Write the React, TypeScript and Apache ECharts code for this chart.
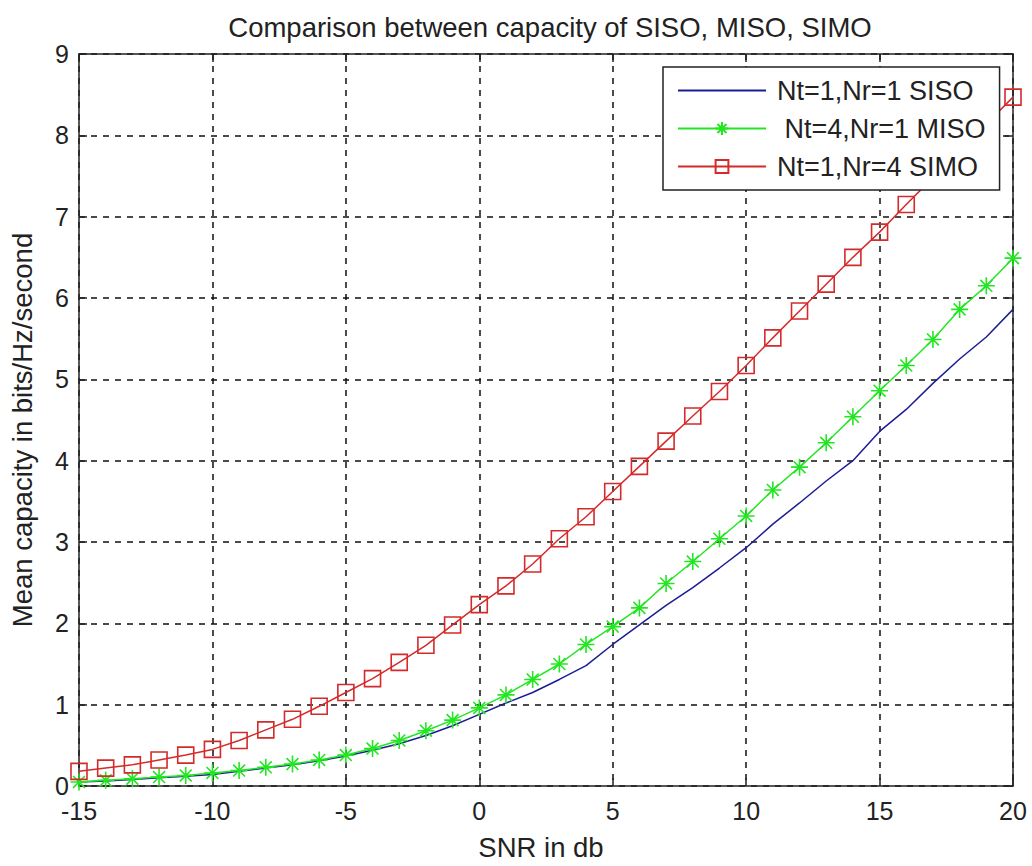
import React, { useEffect, useRef } from "react";
import * as echarts from "echarts";

const snr = [-15,-14,-13,-12,-11,-10,-9,-8,-7,-6,-5,-4,-3,-2,-1,0,1,2,3,4,5,6,7,8,9,10,11,12,13,14,15,16,17,18,19,20];
const siso = [0.05,0.06,0.08,0.10,0.12,0.14,0.18,0.22,0.26,0.31,0.37,0.44,0.52,0.62,0.74,0.88,1.02,1.15,1.31,1.48,1.74,1.98,2.22,2.44,2.68,2.93,3.22,3.48,3.75,4.0,4.36,4.63,4.95,5.25,5.52,5.86];
const miso = [0.05,0.07,0.09,0.11,0.13,0.16,0.19,0.23,0.27,0.32,0.38,0.46,0.56,0.68,0.81,0.96,1.12,1.31,1.50,1.74,1.96,2.19,2.49,2.76,3.04,3.32,3.64,3.92,4.22,4.54,4.86,5.17,5.49,5.86,6.15,6.49];
const simo = [0.18,0.22,0.26,0.32,0.38,0.45,0.56,0.69,0.82,0.98,1.15,1.32,1.52,1.73,1.98,2.23,2.46,2.73,3.04,3.31,3.62,3.93,4.24,4.55,4.85,5.17,5.51,5.84,6.17,6.50,6.81,7.15,7.48,7.80,8.14,8.47];
const seriesNames = ["Nt=1,Nr=1 SISO", " Nt=4,Nr=1 MISO", "Nt=1,Nr=4 SIMO"];
const titleText = "Comparison between capacity of SISO, MISO, SIMO";
const xName = "SNR in db";
const yName = "Mean capacity in bits/Hz/second";

const FONT = "'Liberation Sans', Arial, sans-serif";
const TXT = "#222";

export default function App() {
  const ref = useRef<HTMLDivElement>(null);
  useEffect(() => {
    if (!ref.current) return;
    const chart = echarts.init(ref.current, null, { renderer: "svg" });
    const pair = (ys: number[]) => snr.map((x, i) => [x, ys[i]]);
    const star = "path://M0,-10L0,10M-10,0L10,0M-7,-7L7,7M-7,7L7,-7";
    const axisCommon = {
      axisLine: { show: true, onZero: false, lineStyle: { color: "#222", width: 1.5 } },
      axisTick: { show: true, inside: true, length: 8, lineStyle: { color: "#222", width: 1.5 } },
      splitLine: { show: false },
    };
    chart.setOption({
      animation: false,
      backgroundColor: "#fff",
      textStyle: { fontFamily: FONT },
      title: {
        text: titleText,
        left: 545,
        textAlign: "center",
        top: 8,
        textStyle: { fontFamily: FONT, fontSize: 27.5, fontWeight: "normal", color: TXT },
      },
      legend: {
        left: 663,
        top: 67,
        orient: "vertical",
        backgroundColor: "#fff",
        borderColor: "#222",
        borderWidth: 1.5,
        borderRadius: 0,
        padding: [10, 14, 10, 14],
        itemGap: 11,
        itemWidth: 88,
        itemHeight: 16,
        data: [
          { name: seriesNames[0], itemStyle: { opacity: 0 } },
          { name: seriesNames[1] },
          { name: seriesNames[2] },
        ],
        textStyle: { fontFamily: FONT, fontSize: 27, color: TXT, padding: [0, 0, 0, 6] },
        z: 10,
      },
      graphic: [
        {
          type: "text",
          x: 22,
          y: 430,
          rotation: Math.PI / 2,
          style: {
            text: yName,
            fontFamily: FONT,
            fontSize: 27.5,
            fill: TXT,
            align: "center",
            verticalAlign: "middle",
          },
        },
      ],
      grid: { left: 79, right: 19, top: 54, bottom: 77, containLabel: false },
      xAxis: [
        {
          type: "value",
          min: -15,
          max: 20,
          interval: 5,
          position: "bottom",
          name: xName,
          nameLocation: "middle",
          nameGap: 47,
          nameTextStyle: { fontFamily: FONT, fontSize: 27.5, color: TXT, padding: [0, 10, 0, 0] },
          axisLabel: { fontFamily: FONT, fontSize: 25, color: TXT, margin: 12 },
          ...axisCommon,
          splitLine: { show: true, lineStyle: { color: "#111", type: [6, 6], width: 1.5 } },
        },
        {
          type: "value",
          min: -15,
          max: 20,
          interval: 5,
          position: "top",
          axisLabel: { show: false },
          ...axisCommon,
        },
      ],
      yAxis: [
        {
          type: "value",
          min: 0,
          max: 9,
          interval: 1,
          position: "left",
          axisLabel: { fontFamily: FONT, fontSize: 25, color: TXT, margin: 10 },
          ...axisCommon,
          splitLine: { show: true, lineStyle: { color: "#111", type: [6, 6], width: 1.5 } },
        },
        {
          type: "value",
          min: 0,
          max: 9,
          interval: 1,
          position: "right",
          axisLabel: { show: false },
          ...axisCommon,
        },
      ],
      series: [
        {
          name: seriesNames[0],
          type: "line",
          data: pair(siso),
          showSymbol: false,
          symbol: "none",
          color: "#1c1c96",
          lineStyle: { color: "#1c1c96", width: 1.5 },
        },
        {
          name: seriesNames[1],
          type: "line",
          data: pair(miso),
          symbol: star,
          symbolSize: 17,
          color: "#22e622",
          itemStyle: { color: "#22e622", borderColor: "#22e622", borderWidth: 1.6 },
          lineStyle: { color: "#22e622", width: 1.5 },
        },
        {
          name: seriesNames[2],
          type: "line",
          data: pair(simo),
          symbol: "rect",
          symbolSize: 16,
          color: "#d42a2a",
          itemStyle: { color: "rgba(255,255,255,0)", borderColor: "#d42a2a", borderWidth: 1.6 },
          lineStyle: { color: "#d42a2a", width: 1.5 },
        },
      ],
    });
    return () => chart.dispose();
  }, []);
  return (
    <div
      ref={ref}
      style={{ position: "fixed", left: 0, top: 0, width: 1032, height: 866 }}
    />
  );
}
